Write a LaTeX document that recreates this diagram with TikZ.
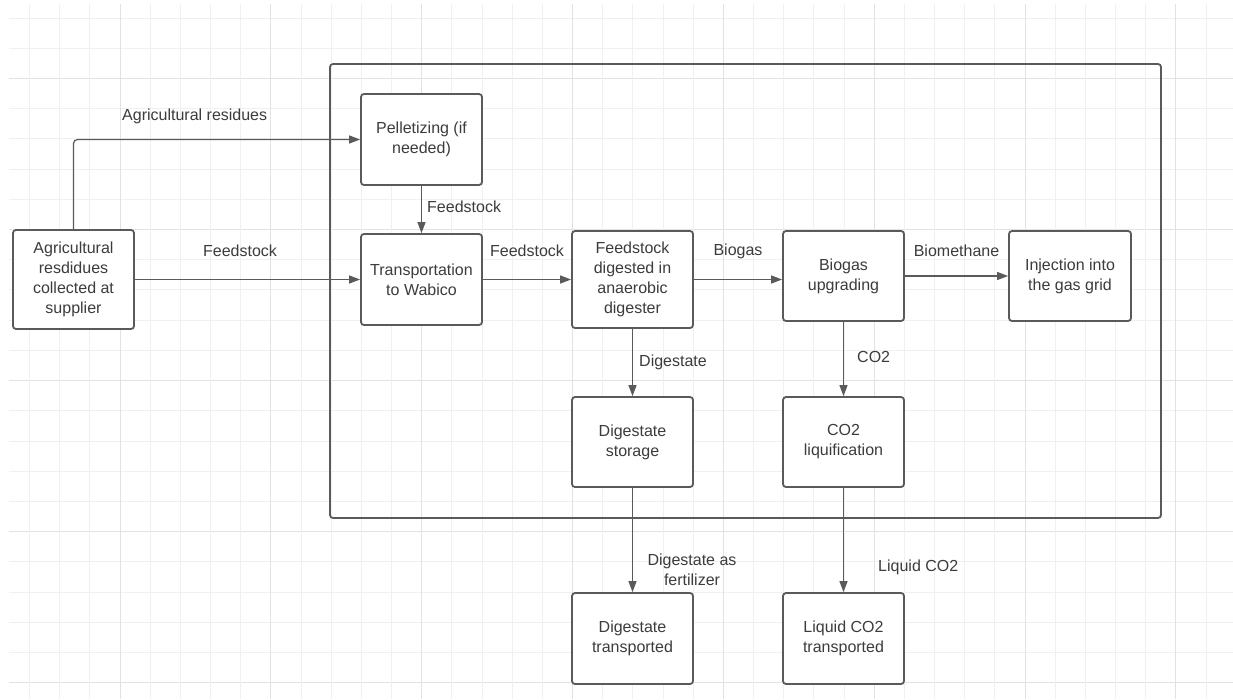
\documentclass[tikz,border=0pt]{standalone}
\usepackage{fontspec}
\setmainfont{Liberation Sans}
\usetikzlibrary{arrows.meta}
\definecolor{gridc}{HTML}{F0F0F0}
\definecolor{gridh}{HTML}{E2E2E2}
\definecolor{linec}{HTML}{5A5A5A}
\definecolor{textc}{HTML}{3C3C3C}
\tikzset{
  procbox/.style={draw=linec, line width=1.8pt, rounded corners=3pt, fill=white,
    align=center, text=textc, inner sep=0pt,
    font=\fontsize{16}{20}\selectfont},
  conn/.style={draw=linec, line width=1.2pt, -{Triangle[length=11pt,width=8pt]}},
  lbl/.style={text=textc, inner sep=0pt, font=\fontsize{16}{20}\selectfont, align=center},
}
\begin{document}
\begin{tikzpicture}[x=1pt,y=-1pt]
\useasboundingbox (0,0) rectangle (1233,699);
\fill[white] (0,0) rectangle (1233,699);
% grid
\foreach \k in {0,...,22}{
  \pgfmathtruncatemacro{\m}{mod(\k,5)}
  \ifnum\m=2 \def\gc{gridh}\else\def\gc{gridc}\fi
  \draw[\gc, line width=1pt] (9,{18+30.22*\k}) -- (1233,{18+30.22*\k});
}
\foreach \k in {0,...,39}{
  \pgfmathtruncatemacro{\m}{mod(\k,5)}
  \ifnum\m=3 \def\gc{gridh}\else\def\gc{gridc}\fi
  \draw[\gc, line width=1pt] ({29.5+30.17*\k},4) -- ({29.5+30.17*\k},699);
}
% container
\node[draw=linec, line width=1.8pt, rounded corners=3pt, minimum width=831pt, minimum height=454pt, inner sep=0pt] (plant) at (745.5,291) {};
% boxes
\node[procbox, minimum width=121pt, minimum height=99pt] (src) at (73.5,279.5) {Agricultural\\resdidues\\collected at\\supplier};
\node[procbox, minimum width=121pt, minimum height=91pt] (pel) at (421.5,139.5) {Pelletizing (if\\needed)};
\node[procbox, minimum width=121pt, minimum height=91pt] (trans) at (421.5,279.5) {Transportation\\to Wabico};
\node[procbox, minimum width=121pt, minimum height=97pt] (dig) at (632.5,279.5) {Feedstock\\digested in\\anaerobic\\digester};
\node[procbox, minimum width=121pt, minimum height=90pt] (upg) at (843.5,276) {Biogas\\upgrading};
\node[procbox, minimum width=122pt, minimum height=90pt] (inj) at (1070,276) {Injection into\\the gas grid};
\node[procbox, minimum width=121pt, minimum height=90pt] (stor) at (632.5,442) {Digestate\\storage};
\node[procbox, minimum width=121pt, minimum height=90pt] (liq) at (843.5,442) {CO2\\liquification};
\node[procbox, minimum width=121pt, minimum height=91pt] (dtr) at (632.5,638.5) {Digestate\\transported};
\node[procbox, minimum width=121pt, minimum height=91pt] (ltr) at (843.5,638.5) {Liquid CO2\\transported};
% connectors
\draw[conn, rounded corners=4pt] (src.north) |- (pel.west);
\draw[conn] (src.east |- trans.west) -- (trans.west);
\draw[conn] (pel.south) -- (trans.north);
\draw[conn] (trans.east) -- (dig.west);
\draw[conn] (dig.east) -- (dig.east -| upg.west);
\draw[conn] (upg.east) -- (inj.west);
\draw[conn] (dig.south) -- (stor.north);
\draw[conn] (upg.south) -- (liq.north);
\draw[conn] (stor.south) -- (dtr.north);
\draw[conn] (liq.south) -- (ltr.north);
% labels
\node[lbl] (l1) at (194.7,116) {Agricultural residues};
\node[lbl] (l2) at (240,251) {Feedstock};
\node[lbl, anchor=west] (l3) at (427,207) {Feedstock};
\node[lbl] (l4) at (527,251) {Feedstock};
\node[lbl] (l5) at (738,251) {Biogas};
\node[lbl] (l6) at (956.5,251) {Biomethane};
\node[lbl, anchor=west] (l7) at (639,362) {Digestate};
\node[lbl, anchor=west] (l8) at (857,357) {CO2};
\node[lbl] (l9) at (692,569.5) {Digestate as\\fertilizer};
\node[lbl, anchor=west] (l10) at (878,567) {Liquid CO2};
\end{tikzpicture}
\end{document}
